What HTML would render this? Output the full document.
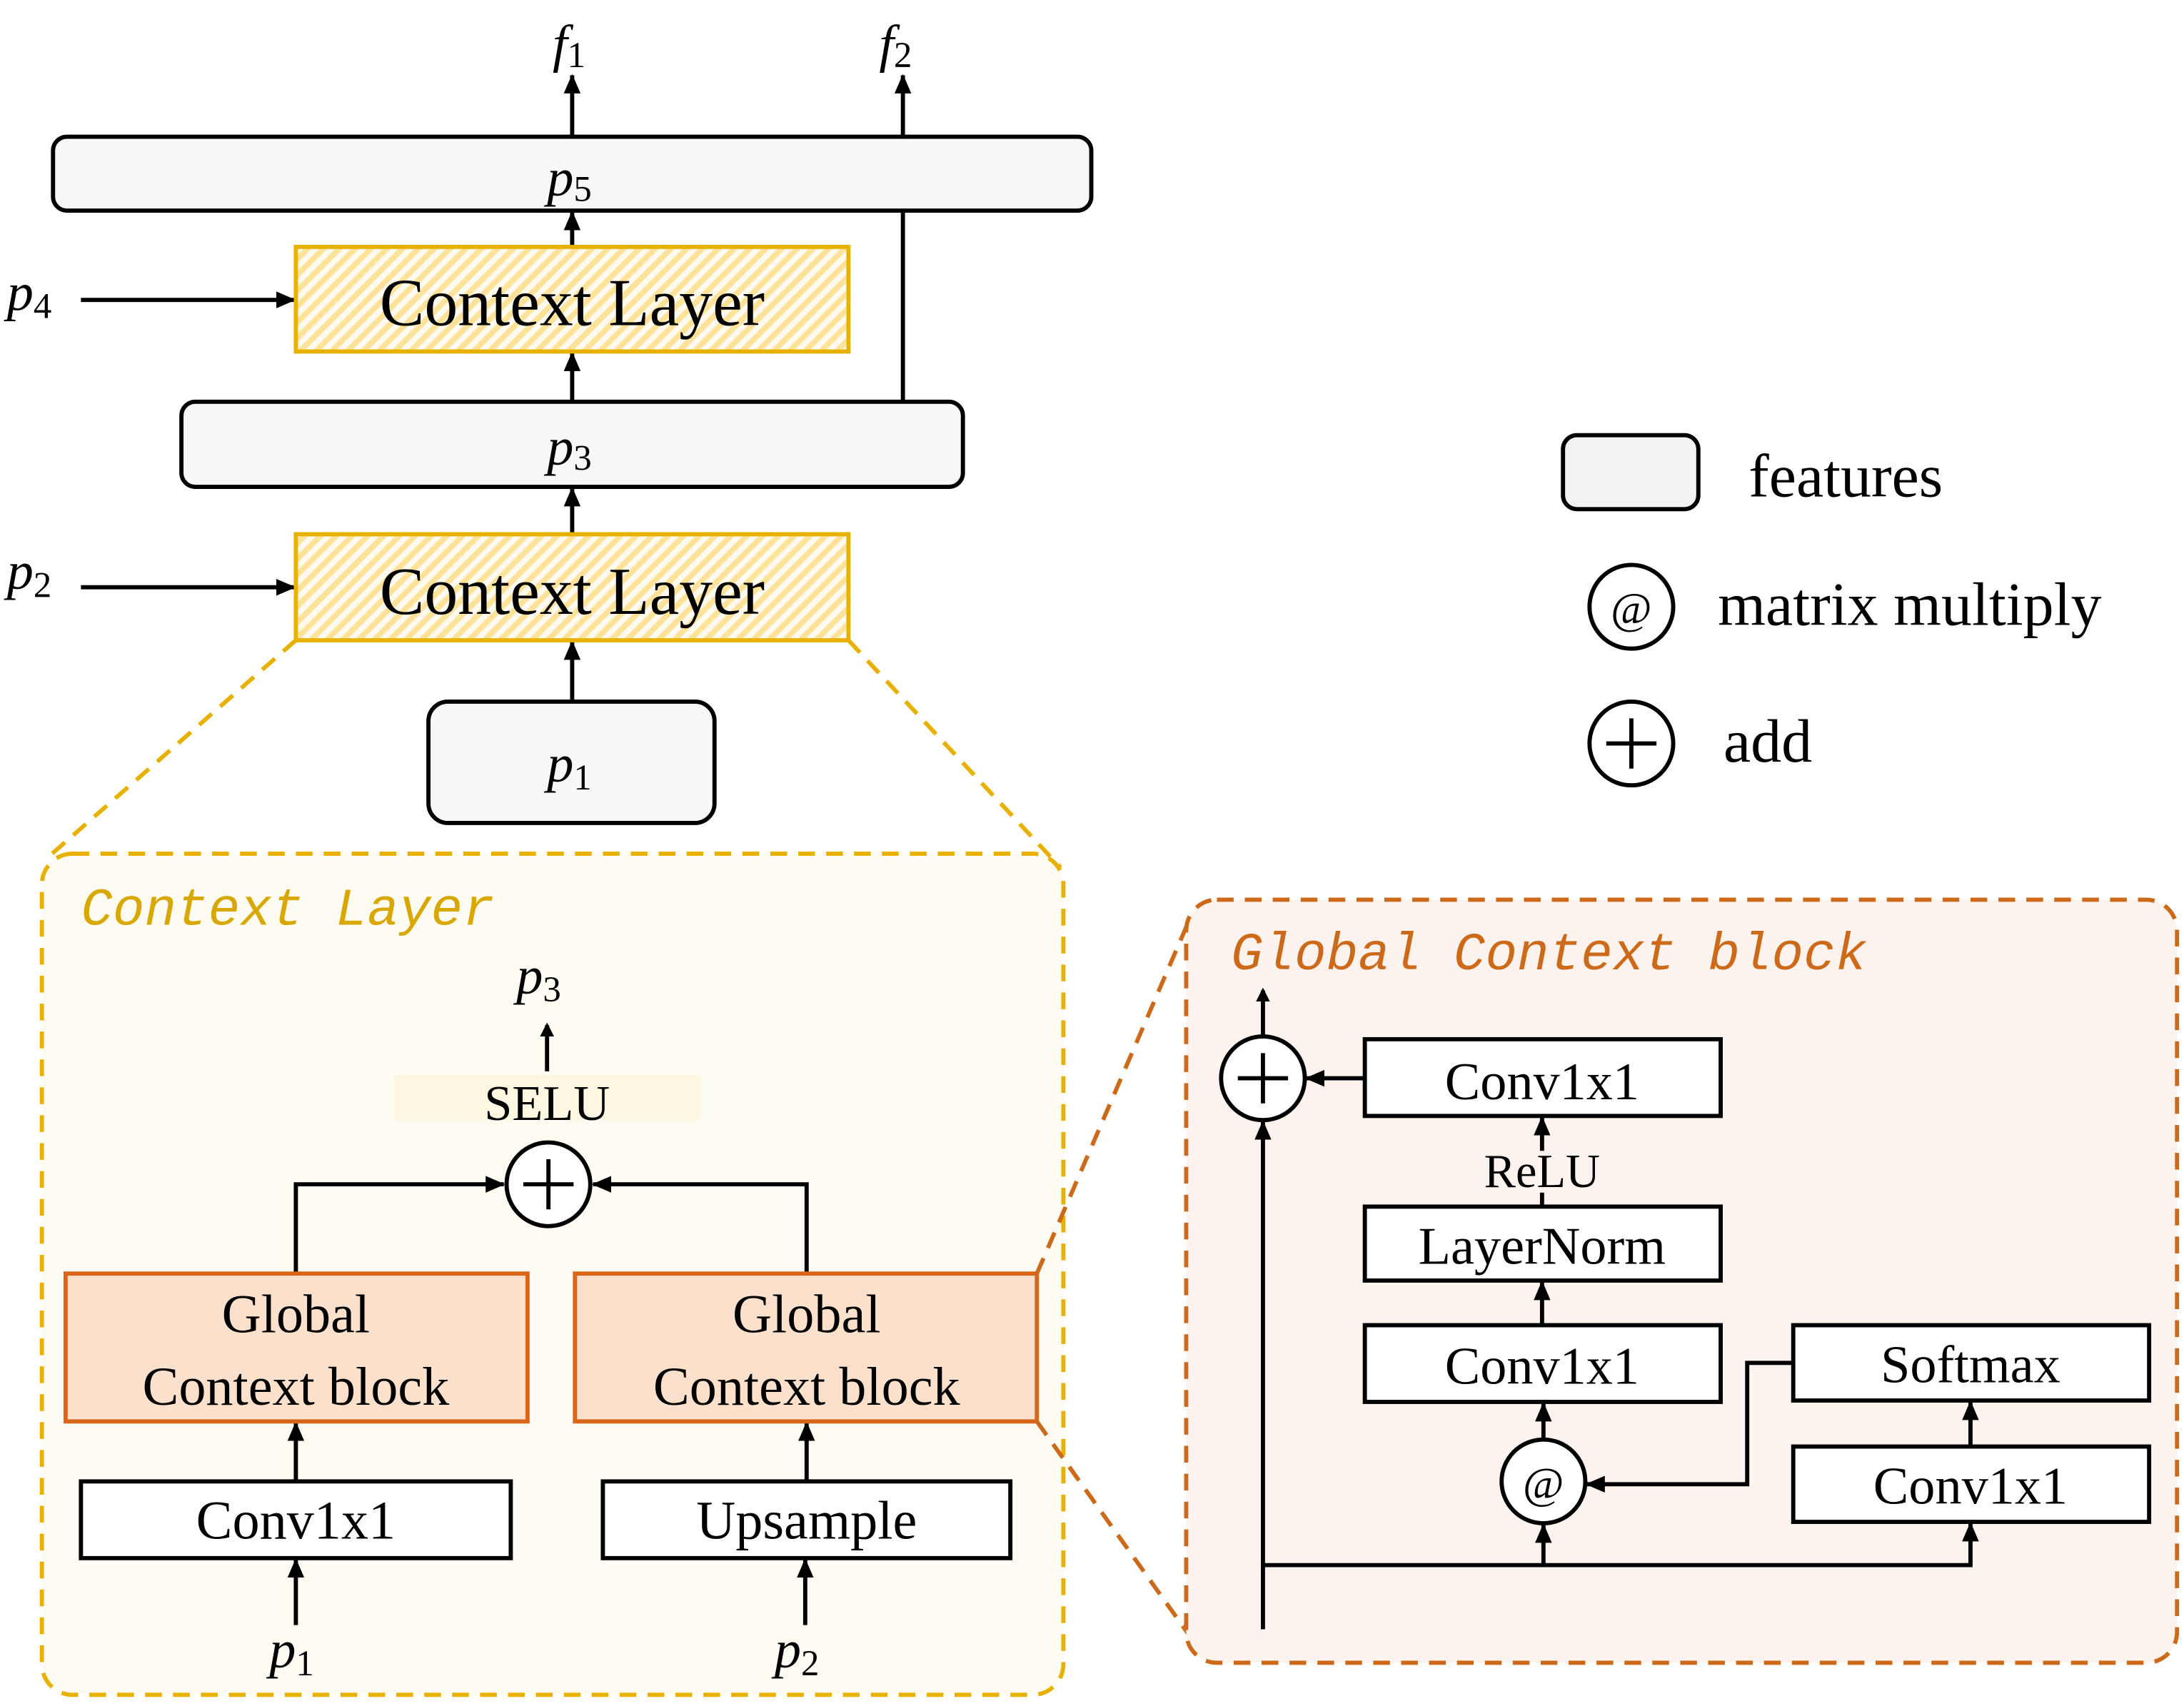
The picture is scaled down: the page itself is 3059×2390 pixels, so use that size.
<!DOCTYPE html>
<html><head><meta charset="utf-8"><style>html,body{margin:0;padding:0;background:#fff}svg{display:block}</style></head><body>
<svg width="3059" height="2390" viewBox="0 0 1565 1223" preserveAspectRatio="none" xmlns="http://www.w3.org/2000/svg" font-family="Liberation Serif, serif">
<defs>
<pattern id="h" width="8" height="8" patternUnits="userSpaceOnUse" patternTransform="rotate(45)">
<rect width="8" height="8" fill="#fffaf0"/><rect width="4" height="8" fill="#fde39a"/></pattern>
<marker id="a" markerWidth="10" markerHeight="10" refX="8" refY="5" orient="auto" markerUnits="userSpaceOnUse"><path d="M0,0 L10,5 L0,10 z" fill="#000"/></marker>
<marker id="b" markerWidth="14" markerHeight="14" refX="13" refY="7" orient="auto" markerUnits="userSpaceOnUse"><path d="M0,1 L14,7 L0,13 z" fill="#000"/></marker>
</defs>
<g stroke="#000" stroke-width="3" fill="none">
<line x1="410" y1="98" x2="410" y2="54" marker-end="url(#b)"/>
<line x1="647" y1="288" x2="647" y2="54" marker-end="url(#b)"/>
<rect x="38" y="98" width="744" height="53" rx="10" fill="#f7f7f7"/>
<line x1="410" y1="177" x2="410" y2="152" marker-end="url(#b)"/>
<line x1="58" y1="215" x2="211" y2="215" marker-end="url(#b)"/>
<line x1="410" y1="288" x2="410" y2="253" marker-end="url(#b)"/>
<rect x="130" y="288" width="560" height="61" rx="10" fill="#f7f7f7"/>
<line x1="410" y1="383" x2="410" y2="350" marker-end="url(#b)"/>
<line x1="58" y1="421" x2="211" y2="421" marker-end="url(#b)"/>
<line x1="410" y1="503" x2="410" y2="460" marker-end="url(#b)"/>
<rect x="307" y="503" width="205" height="87" rx="14" fill="#f7f7f7"/>
</g>
<rect x="212" y="177" width="396" height="75" fill="url(#h)" stroke="#e8b100" stroke-width="3"/>
<rect x="212" y="383" width="396" height="76" fill="url(#h)" stroke="#e8b100" stroke-width="3"/>
<g font-size="48" text-anchor="middle" fill="#000">
<text x="410" y="233">Context Layer</text>
<text x="410" y="440">Context Layer</text>
</g>
<g font-style="italic" font-size="38" fill="#000">
<text x="396" y="44">f<tspan font-size="26" dy="4" font-style="normal">1</tspan></text>
<text x="630" y="44">f<tspan font-size="26" dy="4" font-style="normal">2</tspan></text>
<text x="392" y="140">p<tspan font-size="26" dy="4" font-style="normal">5</tspan></text>
<text x="5" y="222">p<tspan font-size="26" dy="6" font-style="normal">4</tspan></text>
<text x="392" y="333">p<tspan font-size="26" dy="4" font-style="normal">3</tspan></text>
<text x="5" y="422">p<tspan font-size="26" dy="6" font-style="normal">2</tspan></text>
<text x="392" y="560">p<tspan font-size="26" dy="6" font-style="normal">1</tspan></text>
</g>
<line x1="212" y1="459" x2="35" y2="614" stroke="#e8b100" stroke-width="3" stroke-dasharray="12,8"/>
<line x1="608" y1="459" x2="760" y2="622" stroke="#e8b100" stroke-width="3" stroke-dasharray="12,8"/>
<rect x="30" y="612" width="732" height="603" rx="22" fill="#fefbf2" stroke="#e8b100" stroke-width="3" stroke-dasharray="12,8"/>
<text x="58" y="663" font-family="Liberation Mono, monospace" font-style="italic" font-size="38" fill="#d9a800">Context Layer</text>
<text x="370" y="712" font-style="italic" font-size="38">p<tspan font-size="26" dy="6" font-style="normal">3</tspan></text>
<rect x="282" y="771" width="220" height="32" fill="#fdf6e0"/>
<text x="392" y="803" font-size="36" text-anchor="middle">SELU</text>
<g stroke="#000" stroke-width="3" fill="none">
<line x1="392" y1="768" x2="392" y2="735" marker-end="url(#a)"/>
<polyline points="212,913 212,849 361,849" marker-end="url(#b)"/>
<polyline points="578,913 578,849 425,849" marker-end="url(#b)"/>
<circle cx="393" cy="849" r="30" fill="#fff"/>
<line x1="393" y1="831" x2="393" y2="867"/><line x1="375" y1="849" x2="411" y2="849"/>
<line x1="212" y1="1062" x2="212" y2="1020" marker-end="url(#b)"/>
<line x1="578" y1="1062" x2="578" y2="1020" marker-end="url(#b)"/>
<line x1="212" y1="1165" x2="212" y2="1118" marker-end="url(#b)"/>
<line x1="577" y1="1165" x2="577" y2="1118" marker-end="url(#b)"/>
<rect x="58" y="1062" width="308" height="55" fill="#fff"/>
<rect x="432" y="1062" width="292" height="55" fill="#fff"/>
</g>
<rect x="47" y="913" width="331" height="106" fill="#fbe0cc" stroke="#d9661a" stroke-width="3"/>
<rect x="412" y="913" width="331" height="106" fill="#fbe0cc" stroke="#d9661a" stroke-width="3"/>
<g font-size="39" text-anchor="middle">
<text x="212" y="955">Global</text><text x="212" y="1007">Context block</text>
<text x="578" y="955">Global</text><text x="578" y="1007">Context block</text>
<text x="212" y="1103">Conv1x1</text><text x="578" y="1103">Upsample</text>
</g>
<g font-style="italic" font-size="38">
<text x="193" y="1195">p<tspan font-size="26" dy="6" font-style="normal">1</tspan></text>
<text x="555" y="1195">p<tspan font-size="26" dy="6" font-style="normal">2</tspan></text>
</g>
<line x1="743" y1="913" x2="852" y2="660" stroke="#cc6a1a" stroke-width="3" stroke-dasharray="12,8"/>
<line x1="743" y1="1019" x2="852" y2="1172" stroke="#cc6a1a" stroke-width="3" stroke-dasharray="12,8"/>
<rect x="850" y="645" width="710" height="547" rx="22" fill="#fdf3ee" stroke="#cc6a1a" stroke-width="3" stroke-dasharray="12,8"/>
<text x="882" y="695" font-family="Liberation Mono, monospace" font-style="italic" font-size="38" fill="#cc6a1a">Global Context block</text>
<g stroke="#000" stroke-width="3" fill="none">
<line x1="905" y1="743" x2="905" y2="710" marker-end="url(#a)"/>
<line x1="905" y1="1168" x2="905" y2="804" marker-end="url(#b)"/>
<polyline points="905,1122 1412,1122 1412,1092" marker-end="url(#b)"/>
<line x1="1106" y1="1122" x2="1106" y2="1093" marker-end="url(#b)"/>
<line x1="1106" y1="1032" x2="1106" y2="1006" marker-end="url(#b)"/>
<line x1="1105" y1="950" x2="1105" y2="919" marker-end="url(#b)"/>
<line x1="1105" y1="865" x2="1105" y2="801" marker-end="url(#b)"/>
<line x1="978" y1="773" x2="936" y2="773" marker-end="url(#b)"/>
<line x1="1412" y1="1037" x2="1412" y2="1005" marker-end="url(#b)"/>
<polyline points="1285,977 1252,977 1252,1064 1137,1064" marker-end="url(#b)"/>
<circle cx="905" cy="773" r="30" fill="#fff"/>
<line x1="905" y1="755" x2="905" y2="791"/><line x1="887" y1="773" x2="923" y2="773"/>
<circle cx="1106" cy="1062" r="30" fill="#fff"/>
<rect x="978" y="745" width="255" height="55" fill="#fff"/>
<rect x="978" y="865" width="255" height="53" fill="#fff"/>
<rect x="978" y="950" width="255" height="55" fill="#fff"/>
<rect x="1285" y="950" width="255" height="54" fill="#fff"/>
<rect x="1285" y="1037" width="255" height="54" fill="#fff"/>
</g>
<rect x="1060" y="825" width="90" height="30" fill="#fdf3ee"/>
<g font-size="38" text-anchor="middle">
<text x="1105" y="788">Conv1x1</text>
<text x="1105" y="906">LayerNorm</text>
<text x="1105" y="992">Conv1x1</text>
<text x="1412" y="991">Softmax</text>
<text x="1412" y="1078">Conv1x1</text>
<text x="1105" y="851" font-size="34">ReLU</text>
<text x="1106" y="1074" font-size="32">@</text>
</g>
<g stroke="#000" stroke-width="3" fill="none">
<rect x="1120" y="312" width="97" height="53" rx="10" fill="#f2f2f2"/>
<circle cx="1169" cy="435" r="30" fill="#fff"/>
<circle cx="1169" cy="533" r="30" fill="#fff"/>
<line x1="1169" y1="515" x2="1169" y2="551"/><line x1="1151" y1="533" x2="1187" y2="533"/>
</g>
<g font-size="44">
<text x="1169" y="447" font-size="32" text-anchor="middle">@</text>
<text x="1253" y="356">features</text>
<text x="1231" y="448">matrix multiply</text>
<text x="1235" y="546">add</text>
</g>
</svg>
</body></html>
